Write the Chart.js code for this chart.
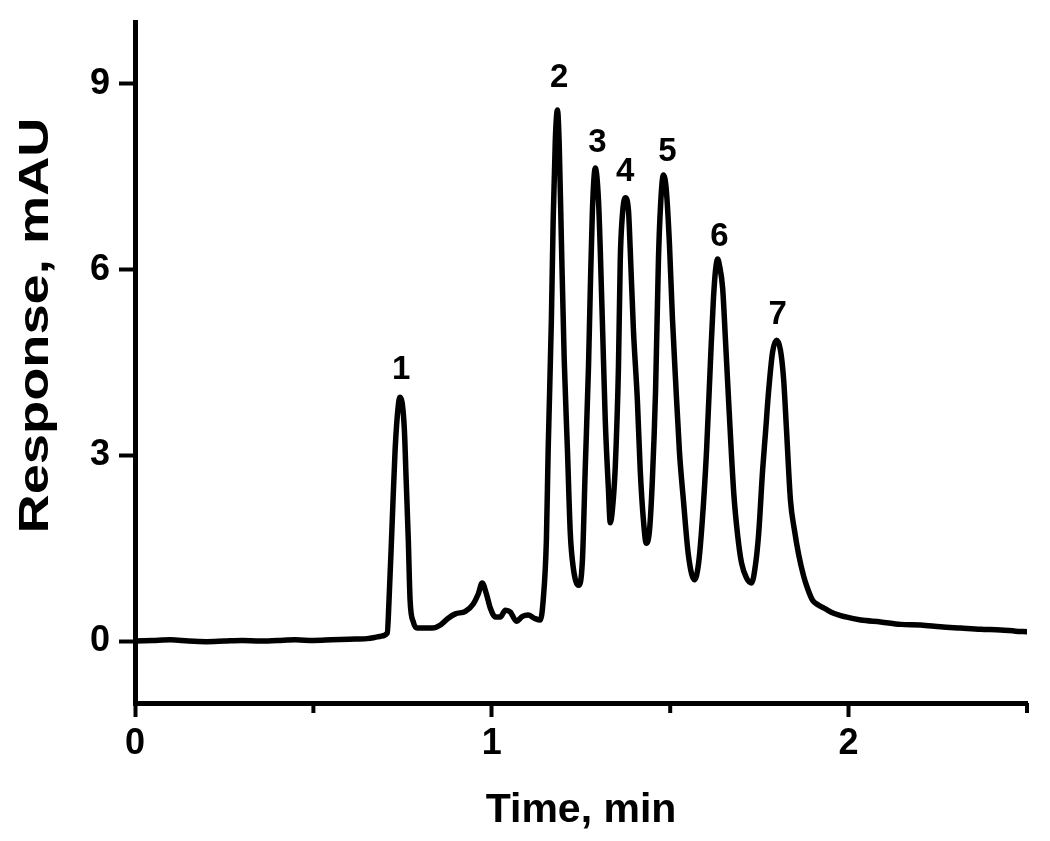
<!DOCTYPE html>
<html>
<head>
<meta charset="utf-8">
<title>Chromatogram</title>
<script src="https://cdn.jsdelivr.net/npm/chart.js@4.4.1/dist/chart.umd.min.js"></script>
<style>
  html, body { margin: 0; padding: 0; background: #fff; }
  canvas { display: block; }
</style>
</head>
<body>
<canvas id="chromChart" width="1050" height="841"></canvas>
<script>
// retention time (min) and detector response (mAU)
var timeMin = [
  0.00, 0.05, 0.10, 0.15, 0.20, 0.25, 0.30, 0.35, 0.40, 0.45, 0.50, 0.55, 0.60, 0.65, 0.673, 0.69,
  0.707, 0.712, 0.721, 0.729, 0.738, 0.743, 0.749, 0.755, 0.760, 0.766, 0.771, 0.780, 0.791, 0.813, 0.833,
  0.856, 0.878, 0.898, 0.926, 0.948, 0.962, 0.973, 0.985, 0.996, 1.010, 1.024, 1.038, 1.052, 1.069, 1.086,
  1.102, 1.119, 1.136,
  1.144, 1.153, 1.158, 1.167, 1.172, 1.178, 1.184, 1.189, 1.195, 1.203, 1.212, 1.220, 1.228, 1.243,
  1.254, 1.262, 1.271, 1.276, 1.282, 1.290, 1.299, 1.304, 1.313, 1.318, 1.327, 1.332,
  1.338, 1.346, 1.355, 1.360, 1.366, 1.374, 1.383, 1.388, 1.397, 1.408, 1.416, 1.425, 1.433,
  1.442, 1.450, 1.459, 1.467, 1.473, 1.481, 1.489, 1.498, 1.506, 1.515, 1.526, 1.537, 1.551, 1.568,
  1.579, 1.590, 1.602, 1.613, 1.621, 1.627, 1.633, 1.638, 1.647, 1.655, 1.664, 1.678, 1.689, 1.700, 1.714, 1.728,
  1.739, 1.748, 1.759, 1.767, 1.776, 1.787, 1.798, 1.809, 1.818, 1.826, 1.837, 1.848, 1.860, 1.874, 1.885,
  1.899, 1.916, 1.935, 1.958, 1.992, 2.034, 2.090, 2.146, 2.202, 2.258, 2.314, 2.370, 2.426, 2.468, 2.50
];
var response = [
  0.00, 0.01, 0.02, 0.00, -0.01, 0.00, 0.01, 0.00, 0.01, 0.02, 0.01, 0.02, 0.03, 0.04, 0.06, 0.08,
  0.13, 0.66, 1.95, 3.09, 3.81, 3.94, 3.84, 3.41, 2.60, 1.63, 0.66, 0.31, 0.21, 0.21, 0.21,
  0.26, 0.37, 0.44, 0.48, 0.60, 0.76, 0.94, 0.76, 0.53, 0.39, 0.39, 0.50, 0.47, 0.32, 0.40,
  0.42, 0.37, 0.34,
  0.66, 1.63, 3.09, 5.19, 6.80, 8.09, 8.58, 8.01, 6.48, 4.54, 3.09, 1.74, 1.20, 0.90,
  1.31, 2.81, 4.43, 5.67, 6.96, 7.64, 7.12, 6.32, 4.54, 3.57, 2.44, 1.91,
  2.12, 2.81, 4.43, 6.15, 6.88, 7.16, 6.96, 6.32, 5.02, 3.89, 2.76, 1.95, 1.58,
  1.79, 2.60, 4.05, 6.15, 7.04, 7.53, 7.29, 6.40, 5.25, 4.22, 3.05, 2.28, 1.39, 0.99,
  1.23, 1.95, 3.09, 4.54, 5.51, 5.99, 6.17, 6.07, 5.70, 4.85, 3.85, 2.40, 1.71, 1.26, 1.02, 0.94,
  1.23, 1.74, 2.76, 3.36, 4.05, 4.67, 4.86, 4.70, 4.22, 3.41, 2.28, 1.80, 1.40, 1.05, 0.85,
  0.66, 0.58, 0.52, 0.45, 0.39, 0.34, 0.31, 0.27, 0.26, 0.23, 0.21, 0.19, 0.18, 0.16, 0.15
];

var xMajorTicks = [0, 1, 2];
var xMinorTicks = [0.5, 1.5, 2.5];
var yTicks = [0, 3, 6, 9];

// peak numbers and where they sit (time, response)
var peakNames = ["1", "2", "3", "4", "5", "6", "7"];
var peakTime = [0.746, 1.189, 1.296, 1.374, 1.492, 1.638, 1.801];
var peakLabelY = [4.38, 9.10, 8.05, 7.58, 7.90, 6.53, 5.27];

var fontFamily = "'Liberation Sans', Arial, sans-serif";

var minorTickPlugin = {
    id: 'minorTicks',
    afterDraw: function(chart) {
        var ctx = chart.ctx;
        var xs = chart.scales.x;
        var y0 = chart.chartArea.bottom;
        ctx.save();
        ctx.strokeStyle = '#000';
        ctx.lineWidth = 4;
        xMinorTicks.forEach(function(v) {
            var px = xs.getPixelForValue(v);
            ctx.beginPath();
            ctx.moveTo(px, y0);
            ctx.lineTo(px, y0 + 10);
            ctx.stroke();
        });
        ctx.restore();
    }
};

var peakLabelPlugin = {
    id: 'peakLabels',
    afterDatasetsDraw: function(chart) {
        var ctx = chart.ctx;
        var xs = chart.scales.x, ys = chart.scales.y;
        ctx.save();
        ctx.fillStyle = '#000';
        ctx.font = 'bold 33px ' + fontFamily;
        ctx.textAlign = 'center';
        ctx.textBaseline = 'middle';
        peakNames.forEach(function(name, i) {
            ctx.fillText(name, xs.getPixelForValue(peakTime[i]), ys.getPixelForValue(peakLabelY[i]));
        });
        ctx.restore();
    }
};

// y title is drawn by hand, it is stretched along its length in the original
var yTitlePlugin = {
    id: 'yTitle',
    afterDraw: function(chart) {
        var ctx = chart.ctx;
        var text = 'Response, mAU';
        var mid = (chart.chartArea.top + chart.chartArea.bottom) / 2 - 37;
        ctx.save();
        ctx.fillStyle = '#000';
        ctx.font = 'bold 43px ' + fontFamily;
        ctx.textAlign = 'center';
        ctx.textBaseline = 'alphabetic';
        var w = ctx.measureText(text).width;
        ctx.translate(48, mid);
        ctx.rotate(-Math.PI / 2);
        ctx.scale(416 / w, 1);
        ctx.fillText(text, 0, 0);
        ctx.restore();
    }
};

var chromData = timeMin.map(function(t, i) {
    return {x: t, y: response[i]};
});

var ctx = document.getElementById("chromChart").getContext("2d");
new Chart(ctx, {
    type: 'line',
    data: {
        datasets: [{
            label: 'Response',
            data: chromData,
            borderColor: '#000',
            borderWidth: 5.5,
            pointRadius: 0,
            fill: false,
            cubicInterpolationMode: 'monotone',
            borderJoinStyle: 'round',
            borderCapStyle: 'round'
        }]
    },
    options: {
        responsive: false,
        animation: false,
        layout: {
            padding: {top: 22, right: 23, left: 0, bottom: 0}
        },
        plugins: {
            legend: {display: false},
            tooltip: {enabled: false}
        },
        scales: {
            x: {
                type: 'linear',
                min: 0,
                max: 2.5,
                afterBuildTicks: function(scale) {
                    scale.ticks = xMajorTicks.map(function(v) { return {value: v}; });
                },
                afterFit: function(scale) { scale.height = 138; },
                grid: {
                    display: true,
                    drawOnChartArea: false,
                    drawTicks: true,
                    tickLength: 14,
                    tickWidth: 4,
                    tickColor: '#000'
                },
                border: {display: true, color: '#000', width: 5},
                ticks: {
                    color: '#000',
                    padding: 5,
                    maxRotation: 0,
                    font: {family: fontFamily, weight: 'bold', size: 36}
                },
                title: {
                    display: true,
                    text: 'Time, min',
                    color: '#000',
                    font: {family: fontFamily, weight: 'bold', size: 41},
                    padding: {top: 0, bottom: 6}
                }
            },
            y: {
                type: 'linear',
                min: -1,
                max: 10,
                afterBuildTicks: function(scale) {
                    scale.ticks = yTicks.map(function(v) { return {value: v}; });
                },
                afterFit: function(scale) {
                    scale.width = 135;
                    // labels sit well inside the axis, no need for the extra room
                    scale.paddingTop = 0;
                    scale.paddingBottom = 0;
                },
                grid: {
                    display: true,
                    drawOnChartArea: false,
                    drawTicks: true,
                    tickLength: 16,
                    tickWidth: 4,
                    tickColor: '#000'
                },
                border: {display: true, color: '#000', width: 5},
                ticks: {
                    color: '#000',
                    padding: 9,
                    font: {family: fontFamily, weight: 'bold', size: 36}
                },
                title: {display: false}
            }
        }
    },
    plugins: [minorTickPlugin, peakLabelPlugin, yTitlePlugin]
});
</script>
</body>
</html>
